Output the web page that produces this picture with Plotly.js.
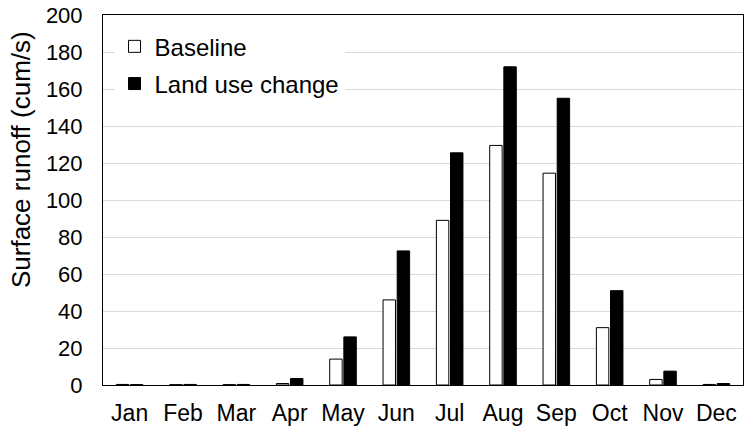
<!DOCTYPE html>
<html>
<head>
<meta charset="utf-8">
<script src="https://cdn.plot.ly/plotly-3.0.1.min.js"></script>
<style>html,body{margin:0;padding:0;background:#fff;}#chart{width:744px;height:431px;}</style>
</head>
<body>
<div id="chart"></div>
<script>
const months = ["Jan","Feb","Mar","Apr","May","Jun","Jul","Aug","Sep","Oct","Nov","Dec"];
const baseline = [0.3, 0.2, 0.2, 0.8, 14, 46, 89, 129.5, 114.5, 31, 3, 0.3];
const landUseChange = [0.2, 0.3, 0.3, 3.5, 26, 72.5, 125.5, 172, 155, 51, 7.5, 0.8];
const yTicks = [0,20,40,60,80,100,120,140,160,180,200];
const yTitle = "Surface runoff (cum/s)";

const fam = "Liberation Sans, Arial, sans-serif";
const tickFontY = {family: fam, size: 22, color: "#000"};
const tickFontX = {family: fam, size: 23, color: "#000"};
const legendFont = {family: fam, size: 24, color: "#000"};
const titleFont = {family: fam, size: 26, color: "#000"};

const data = [
  {type: "bar", name: "Baseline", x: months, y: baseline,
   marker: {color: "#fff", line: {color: "#000", width: 1}}, legendgroup: "a"},
  {type: "bar", name: "Land use change", x: months, y: landUseChange,
   marker: {color: "#000", line: {color: "#000", width: 1}}, legendgroup: "b"}
];

const layout = {
  width: 744, height: 431,
  margin: {l: 103, r: 1, t: 15, b: 46},
  paper_bgcolor: "#fff", plot_bgcolor: "#fff",
  font: tickFontY,
  barmode: "group", bargap: 0.47, bargroupgap: 0.12,
  showlegend: true,
  legend: {x: 0.018, y: 0.975, xanchor: "left", yanchor: "top",
           bgcolor: "#fff", font: legendFont, traceorder: "grouped", tracegroupgap: 3,
           itemwidth: 30},
  xaxis: {type: "category", showline: true, linecolor: "#000", linewidth: 1, mirror: true,
          ticks: "", tickfont: tickFontX, showgrid: false, zeroline: false, ticklabelstandoff: 7},
  yaxis: {range: [0, 200], tickvals: yTicks, ticktext: yTicks.map(String),
          showline: true, linecolor: "#000", linewidth: 1, mirror: true,
          ticks: "", tickfont: tickFontY, showgrid: true, gridcolor: "#d9d9d9", gridwidth: 1,
          zeroline: false, ticklabelstandoff: 15},
  annotations: [{text: yTitle, xref: "paper", yref: "paper", x: -0.127, y: 0.61,
                 xanchor: "center", yanchor: "middle", textangle: -90, showarrow: false,
                 font: titleFont}]
};

Plotly.newPlot("chart", data, layout, {staticPlot: true, displayModeBar: false});
</script>
</body>
</html>
